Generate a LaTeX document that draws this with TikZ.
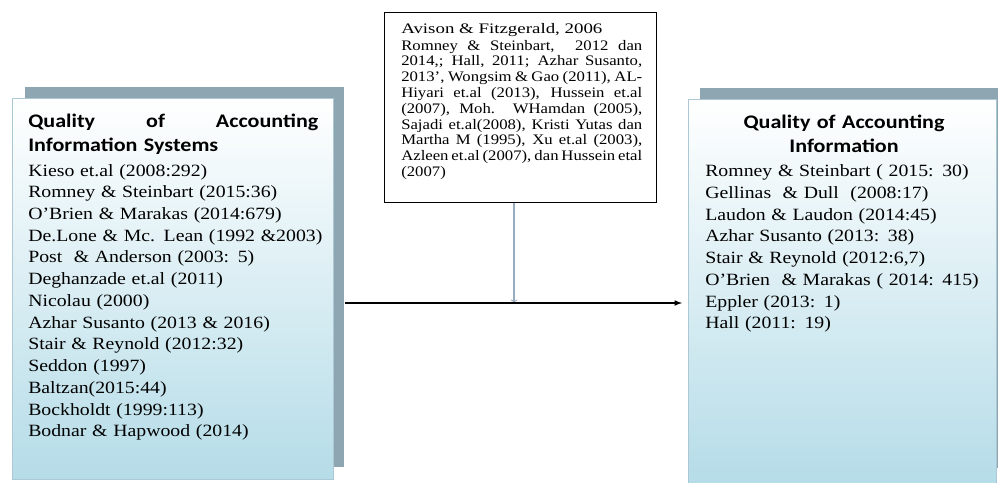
\documentclass[tikz,border=0pt]{standalone}
\usepackage{fontspec}
\setmainfont[FakeStretch=1.15]{Liberation Serif}
\newfontfamily\titlefont[FakeStretch=1.15]{Carlito}
\newfontfamily\widefont[FakeStretch=1.3]{Liberation Serif}
\usepackage{tikz}
\usetikzlibrary{arrows,positioning}

\definecolor{shadowgray}{RGB}{142,166,178}
\definecolor{boxblue}{RGB}{181,220,232}
\definecolor{boxedge}{RGB}{172,200,212}
\definecolor{arrowgray}{RGB}{150,172,192}

\begin{document}
\begin{tikzpicture}[x=0.75pt, y=-0.75pt, node distance=1cm, auto,
  shadowbox/.style={anchor=north west, rectangle, fill=shadowgray, inner sep=0pt},
  refbox/.style={anchor=north west, rectangle, draw=boxedge, top color=white, bottom color=boxblue, inner sep=0pt},
  titletext/.style={inner sep=0pt, font=\titlefont\bfseries\fontsize{14.4}{18.4}\selectfont},
  listtext/.style={anchor=base west, inner sep=0pt, align=left, text width=300pt, font=\fontsize{12.9}{16.3}\selectfont},
  ]
  \useasboundingbox (0,0) rectangle (998,482);
  %nodes
  \node at (25, 87) [shadowbox, minimum width=239.25pt, minimum height=285pt] (qaisshadow) {};
  \node at (12, 98) [refbox, minimum width=240.75pt, minimum height=285.75pt] (qais) {};
  \node at (700, 88) [shadowbox, minimum width=240pt, minimum height=285pt] (qaishadow) {};
  \node at (688, 99) [refbox, minimum width=231pt, minimum height=288.75pt] (qai) {};
  \node at (384, 12) [anchor=north west, rectangle, draw=black, thick, fill=white, inner sep=0pt,
    minimum width=204pt, minimum height=142.5pt] (refs) {};

  % left box
  \node at (28, 127) [titletext, anchor=base west, text width=217.5pt, align=left] (qaistitle)
    {Quality \hfill of \hfill Accounting\\Information Systems};
  \node at (28, 176) [listtext] (qaislist) {
    Kieso et.al (2008:292)\\
    Romney \& Steinbart (2015:36)\\
    O'Brien \& Marakas (2014:679)\\
    De.Lone \& Mc. Lean (1992 \&2003)\\
    Post \ \& Anderson (2003: 5)\\
    Deghanzade et.al (2011)\\
    Nicolau (2000)\\
    Azhar Susanto (2013 \& 2016)\\
    Stair \& Reynold (2012:32)\\
    Seddon (1997)\\
    Baltzan(2015:44)\\
    Bockholdt (1999:113)\\
    Bodnar \& Hapwood (2014)};

  % middle box
  \node at (401, 33) [anchor=base west, text width=180.75pt, align=justify, inner sep=0pt,
    font=\fontsize{10.9}{11.85}\selectfont] (refstext) {
    {\widefont Avison \& Fitzgerald, 2006}\par\vspace{1pt}
    Romney \& Steinbart, \ 2012 dan\linebreak
    2014,; Hall, 2011; Azhar Susanto,\linebreak
    2013', Wongsim \& Gao (2011), AL-\linebreak
    Hiyari et.al (2013), Hussein et.al\linebreak
    (2007), Moh. WHamdan (2005),\linebreak
    Sajadi et.al(2008), Kristi Yutas dan\linebreak
    Martha M (1995), Xu et.al (2003),\linebreak
    Azleen et.al (2007), dan Hussein etal\linebreak
    (2007)};

  % right box
  \node at (844, 128) [titletext, anchor=base, text width=240pt, align=center] (qaititle)
    {Quality of Accounting\\Information};
  \node at (705, 176.7) [listtext] (qailist) {
    Romney \& Steinbart ( 2015: 30)\\
    Gellinas \ \& Dull \ (2008:17)\\
    Laudon \& Laudon (2014:45)\\
    Azhar Susanto (2013: 38)\\
    Stair \& Reynold (2012:6,7)\\
    O'Brien \ \& Marakas ( 2014: 415)\\
    Eppler (2013: 1)\\
    Hall (2011: 19)};

  %edges
  \coordinate (split) at (514, 303);
  \draw[->, arrowgray, line width=0.8pt] (refs.south -| split) -- (split);
  \draw[-latex, black, line width=0.9pt] (qaisshadow.east |- split) -- ([xshift=-4.5pt]qai.west |- split);
\end{tikzpicture}
\end{document}
